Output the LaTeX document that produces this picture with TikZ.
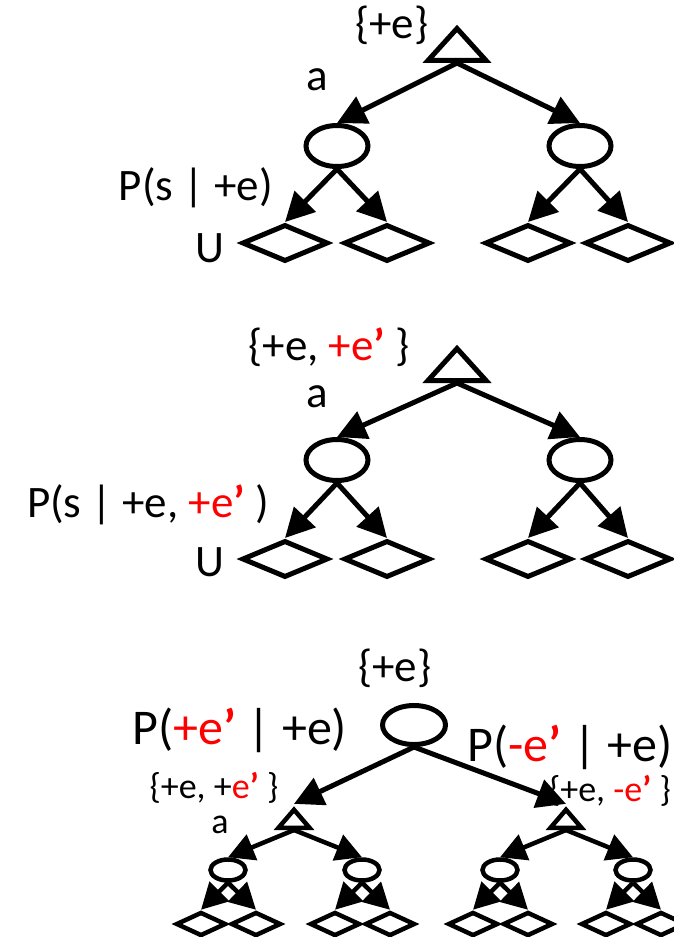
\documentclass[tikz,border=0pt]{standalone}
\usepackage{fontspec}
\setmainfont{Carlito}
\usepackage{xcolor}
\usetikzlibrary{shapes.geometric}
\usetikzlibrary{arrows.meta}
\tikzset{
  maxnode/.style={draw, line width=5pt, isosceles triangle, isosceles triangle stretches, shape border rotate=90, minimum width=58pt, minimum height=32pt, inner sep=0pt, anchor=south},
  smallmax/.style={maxnode, line width=4.5pt, minimum width=31pt, minimum height=18pt},
  chance/.style={draw, line width=5pt, ellipse, minimum width=62pt, minimum height=41pt, inner sep=0pt},
  smallchance/.style={chance, line width=4.5pt, minimum width=35pt, minimum height=21pt},
  leaf/.style={draw, line width=5pt, diamond, minimum width=86pt, minimum height=37pt, inner sep=0pt},
  smallleaf/.style={leaf, line width=4.5pt, minimum width=50pt, minimum height=24pt},
  arr/.style={line width=5pt, -{Triangle[length=29pt,width=29pt]}},
  smallarr/.style={line width=4.5pt, -{Triangle[length=26pt,width=27pt]}},
  lbl/.style={inner sep=0pt, font=\fontsize{45}{50}\selectfont},
  biglbl/.style={inner sep=0pt, font=\fontsize{50}{55}\selectfont},
  smalllbl/.style={inner sep=0pt, font=\fontsize{36}{40}\selectfont}
}
\newcommand{\qt}{\textbf{’}}

\begin{document}
\begin{tikzpicture}[x=1pt,y=-1pt]
\clip (0,0) rectangle (674,937);
% first tree
\node[maxnode] (t1) at (457,63) {};
\node[chance] (c11) at (337,146) {};
\node[chance] (c12) at (580,146) {};
\node[leaf] (u111) at (285,243) {};
\node[leaf] (u112) at (387,243) {};
\node[leaf] (u121) at (528,243) {};
\node[leaf] (u122) at (628,243) {};
\draw[arr] (t1.south) -- (c11.north);
\draw[arr] (t1.south) -- (c12.north);
\draw[arr] (c11.south) -- (u111.north);
\draw[arr] (c11.south) -- (u112.north);
\draw[arr] (c12.south) -- (u121.north);
\draw[arr] (c12.south) -- (u122.north);
\node[lbl] (ev1) at (392,25) {\{+e\}};
\node[lbl] (act1) at (317,80) {a};
\node[lbl] (prob1) at (196,188) {P(s | +e)};
\node[lbl] (util1) at (210,248) {U};

% second tree
\node[maxnode] (t2) at (457,383) {};
\node[chance] (c21) at (337,460) {};
\node[chance] (c22) at (580,460) {};
\node[leaf] (u211) at (285,559) {};
\node[leaf] (u212) at (387,559) {};
\node[leaf] (u221) at (528,559) {};
\node[leaf] (u222) at (628,559) {};
\draw[arr] (t2.south) -- (c21.north);
\draw[arr] (t2.south) -- (c22.north);
\draw[arr] (c21.south) -- (u211.north);
\draw[arr] (c21.south) -- (u212.north);
\draw[arr] (c22.south) -- (u221.north);
\draw[arr] (c22.south) -- (u222.north);
\node[lbl] (ev2) at (329,347) {\{+e, \textcolor{red}{+e\qt} \}};
\node[lbl] (act2) at (317,397) {a};
\node[lbl] (prob2) at (148,505) {P(s | +e, \textcolor{red}{+e\qt} )};
\node[lbl] (util2) at (210,562) {U};

% third tree
\node[chance, minimum width=63pt, minimum height=39pt] (r3) at (414,725) {};
\node[smallmax] (t31) at (294,830) {};
\node[smallmax] (t32) at (566,830) {};
\draw[arr] (r3.south) -- (t31.north);
\draw[arr] (r3.south) -- (t32.north);
\foreach \n/\x in {1/228,2/362,3/500,4/633} {
  \node[smallchance] (s\n) at (\x,870) {};
  \node[smallleaf] (s\n l) at (\x-27,924) {};
  \node[smallleaf] (s\n r) at (\x+28,924) {};
  \draw[smallarr] (s\n.south) -- (s\n l.north);
  \draw[smallarr] (s\n.south) -- (s\n r.north);
}
\draw[smallarr] (t31.south) -- (s1.north);
\draw[smallarr] (t31.south) -- (s2.north);
\draw[smallarr] (t32.south) -- (s3.north);
\draw[smallarr] (t32.south) -- (s4.north);
\node[lbl] (ev3) at (395,668) {\{+e\}};
\node[biglbl] (prob31) at (240,730) {P(\textcolor{red}{+e\qt} | +e)};
\node[biglbl] (prob32) at (570,747) {P(\textcolor{red}{-e\qt} | +e)};
\node[smalllbl] (ev31) at (214,788) {\{+e, +\textcolor{red}{e\qt} \}};
\node[smalllbl] (ev32) at (610,791) {\{+e, \textcolor{red}{-e\qt} \}};
\node[smalllbl] (act3) at (220,825) {a};
\end{tikzpicture}
\end{document}
